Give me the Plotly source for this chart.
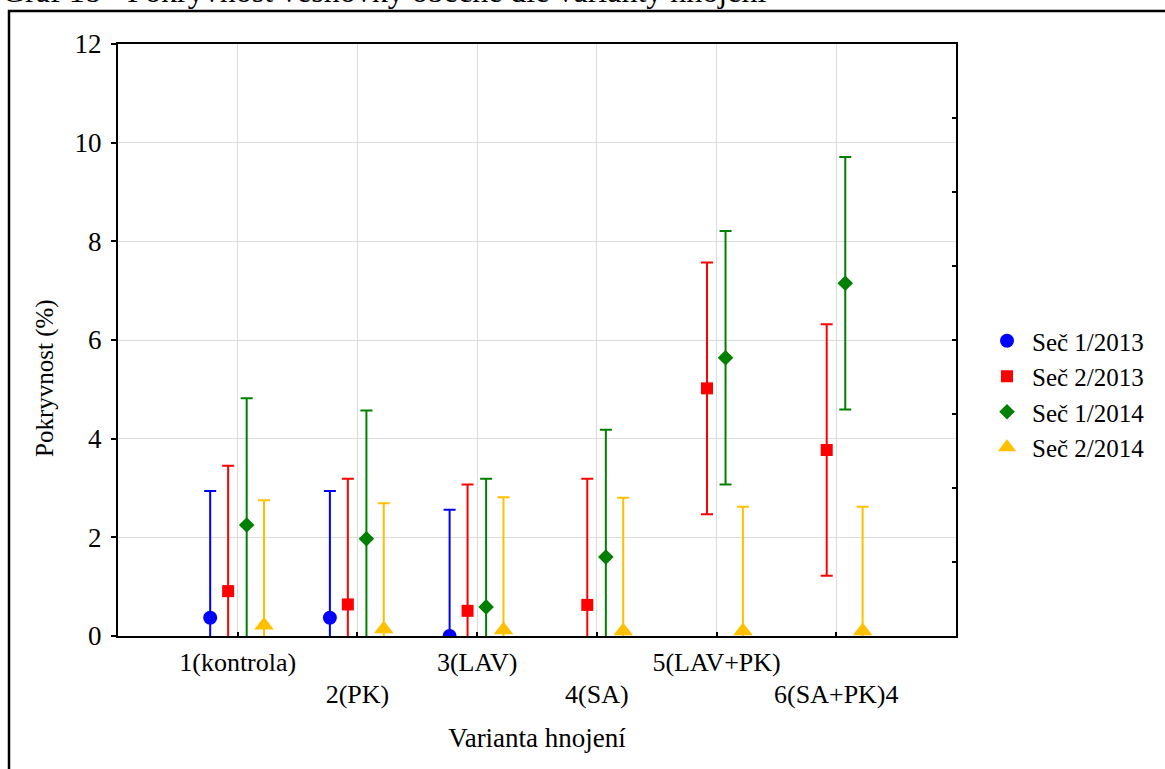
import plotly.graph_objects as go

# ---- data ----
categories = ["1(kontrola)", "2(PK)", "3(LAV)", "4(SA)", "5(LAV+PK)", "6(SA+PK)4"]
cat_index = [1, 2, 3, 4, 5, 6]

series_names = ["Seč 1/2013", "Seč 2/2013", "Seč 1/2014", "Seč 2/2014"]

sec1_2013_mean = [0.37, 0.37, 0.0, None, None, None]
sec1_2013_err = [2.57, 2.57, 2.56, None, None, None]

sec2_2013_mean = [0.91, 0.64, 0.51, 0.63, 5.02, 3.77]
sec2_2013_err = [2.54, 2.55, 2.56, 2.56, 2.55, 2.55]

sec1_2014_mean = [2.25, 1.97, 0.59, 1.60, 5.64, 7.15]
sec1_2014_err = [2.57, 2.60, 2.60, 2.58, 2.57, 2.56]

sec2_2014_mean = [0.22, 0.14, 0.12, 0.10, 0.10, 0.10]
sec2_2014_err = [2.53, 2.55, 2.69, 2.70, 2.52, 2.52]

y_ticks = [0, 2, 4, 6, 8, 10, 12]
right_ticks = [1.5, 3.0, 4.5, 6.0, 7.5, 9.0, 10.5]

# ---- styling ----
FONT = "Liberation Serif"
colors = ["#0000FF", "#FF0000", "#008000", "#FFC000"]
symbols = ["circle", "square", "diamond", "triangle-up"]
sizes = [14, 12, 12, 17]
dodge = [-0.23, -0.08, 0.075, 0.22]

means = [sec1_2013_mean, sec2_2013_mean, sec1_2014_mean, sec2_2014_mean]
errs = [sec1_2013_err, sec2_2013_err, sec1_2014_err, sec2_2014_err]

fig = go.Figure()
for i, name in enumerate(series_names):
    xs, ys, es = [], [], []
    for c, m, e in zip(cat_index, means[i], errs[i]):
        if m is None:
            continue
        xs.append(c + dodge[i])
        ys.append(m)
        es.append(e)
    fig.add_trace(go.Scatter(
        x=xs, y=ys, mode="markers", name=name,
        marker=dict(symbol=symbols[i], size=sizes[i], color=colors[i],
                    line=dict(width=0)),
        error_y=dict(type="data", array=es, visible=True, color=colors[i],
                     thickness=2, width=6),
    ))

# empty helper trace so the overlay axes (second label row, right ticks) are drawn
fig.add_trace(go.Scatter(x=[], y=[], xaxis="x2", yaxis="y2", showlegend=False,
                         hoverinfo="skip", mode="markers"))

W, H = 1165, 769
L, R, T, B = 118, 209, 44, 133
pw, ph = W - L - R, H - T - B


def px_x(px):
    return (px - L) / pw


def px_y(py):
    return (H - B - py) / ph


odd_text = [t if k % 2 == 1 else "" for k, t in zip(cat_index, categories)]
even_text = [t if k % 2 == 0 else "" for k, t in zip(cat_index, categories)]

fig.update_layout(
    width=W, height=H,
    margin=dict(l=L, r=R, t=T, b=B),
    paper_bgcolor="white", plot_bgcolor="white",
    font=dict(family=FONT, size=24, color="black"),
    showlegend=True,
    legend=dict(x=px_x(982), y=px_y(318), xanchor="left", yanchor="top",
                font=dict(family=FONT, size=25, color="black"),
                bgcolor="rgba(0,0,0,0)", itemwidth=40, tracegroupgap=0),
    xaxis=dict(range=[0, 7], tickmode="array", tickvals=cat_index, ticktext=odd_text,
               showgrid=True, gridcolor="#dcdcdc", gridwidth=1, zeroline=False,
               showline=True, linecolor="black", linewidth=2, mirror=True,
               ticks="inside", ticklen=4, tickwidth=2, tickcolor="black",
               ticklabelstandoff=2, tickfont=dict(size=26)),
    xaxis2=dict(range=[0, 7], overlaying="x", anchor="y2", side="bottom",
                tickmode="array", tickvals=cat_index, ticktext=even_text,
                showgrid=False, zeroline=False, showline=False, ticks="",
                ticklabelstandoff=40, tickfont=dict(size=26),
                title=dict(text="Varianta hnojení", font=dict(size=27), standoff=20)),
    yaxis=dict(range=[0, 12], tickmode="array", tickvals=y_ticks,
               showgrid=True, gridcolor="#dcdcdc", gridwidth=1, zeroline=False,
               showline=True, linecolor="black", linewidth=2, mirror=True,
               ticks="outside", ticklen=5, tickwidth=2, tickcolor="black",
               ticklabelstandoff=4, tickfont=dict(size=27)),
    yaxis2=dict(range=[0, 12], overlaying="y", anchor="x2", side="right",
                tickmode="array", tickvals=right_ticks, showticklabels=False,
                showgrid=False, zeroline=False, showline=False,
                ticks="inside", ticklen=4, tickwidth=2, tickcolor="black"),
)

# y axis title placed off-centre as in the reference
fig.add_annotation(text="Pokryvnost (%)", textangle=-90, xref="paper", yref="paper",
                   x=px_x(45), y=px_y(378), xanchor="center", yanchor="middle",
                   showarrow=False, font=dict(family=FONT, size=25, color="black"))

# cut-off chart caption at the very top
fig.add_annotation(text="Graf 18 - Pokryvnost vesnovky obecné dle varianty hnojení",
                   xref="paper", yref="paper", x=px_x(0), y=px_y(11.5),
                   xanchor="left", yanchor="bottom", showarrow=False,
                   font=dict(family=FONT, size=32, color="black"))

# outer frame
fig.add_shape(type="rect", xref="paper", yref="paper",
              x0=px_x(9), x1=px_x(1200), y0=px_y(800), y1=px_y(11),
              line=dict(color="black", width=2.5), fillcolor="rgba(0,0,0,0)", layer="below")

fig.write_html("out.html")
